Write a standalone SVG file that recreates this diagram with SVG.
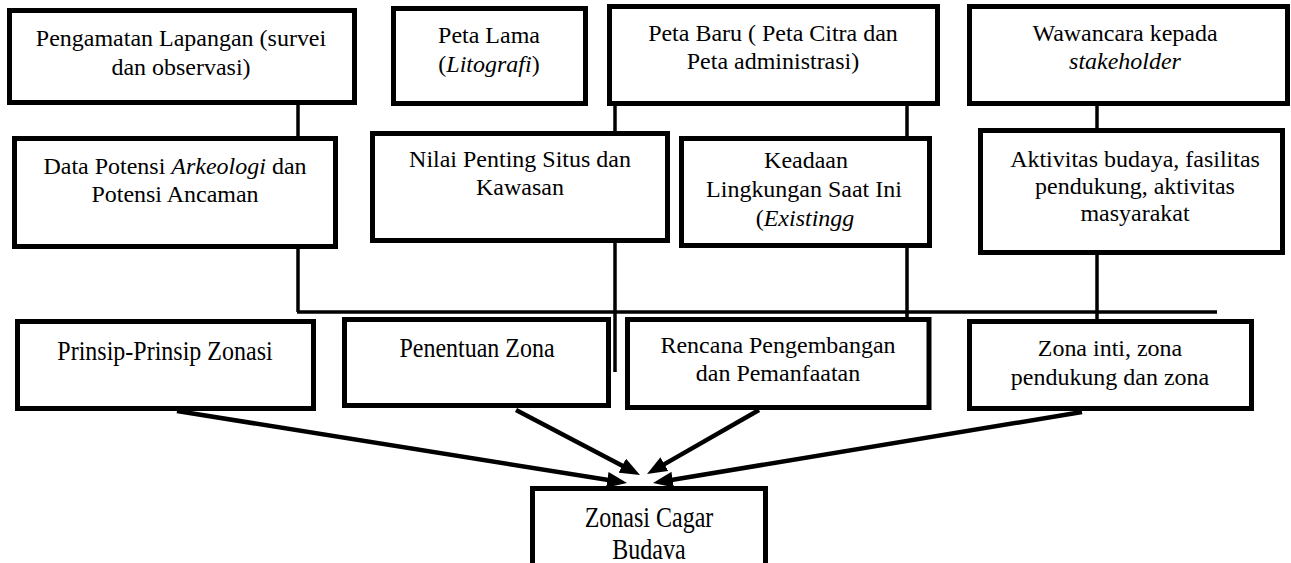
<svg xmlns="http://www.w3.org/2000/svg" width="1291" height="563" viewBox="0 0 1291 563">
<style>
  .box { fill: #ffffff; stroke: #000000; stroke-width: 5; }
  .t { font-family: 'Liberation Serif', 'Times New Roman', serif; font-size: 24px; fill: #000000; text-anchor: middle; }
  .i { font-style: italic; }
  .conn { stroke: #000000; stroke-width: 3.5; fill: none; }
  .arr { stroke: #000000; stroke-width: 4.5; fill: none; marker-end: url(#ah); }
</style>
<defs>
  <marker id="ah" markerUnits="userSpaceOnUse" markerWidth="20" markerHeight="16" refX="6" refY="8" orient="auto">
    <path d="M0,0 L20,8 L0,16 Z" fill="#000000"/>
  </marker>
</defs>
<rect width="1291" height="563" fill="#ffffff"/>

<g id="connectors">
  <path class="conn" d="M298,105 V136"/>
  <path class="conn" d="M298,249 V312"/>
  <path class="conn" d="M615,106 V131"/>
  <path class="conn" d="M615,243 V372"/>
  <path class="conn" d="M907,106 V136"/>
  <path class="conn" d="M907,248 V317"/>
  <path class="conn" d="M1097,106 V128"/>
  <path class="conn" d="M1097,255 V319"/>
  <path class="conn" d="M297,312 H1217"/>
  <path class="arr" d="M177,411 L613.2,480.8"/>
  <path class="arr" d="M516,410 L627.6,468.5"/>
  <path class="arr" d="M759,410 L659.2,467.1"/>
  <path class="arr" d="M1082,412 L666.8,480.7"/>
</g>

<g id="pengamatan">
  <rect class="box" x="9.5" y="10.5" width="345" height="92"/>
  <text class="t" transform="translate(181,46) scale(1,0.97)">Pengamatan Lapangan (survei</text>
  <text class="t" transform="translate(181,75) scale(1,0.97)">dan observasi)</text>
</g>
<g id="peta-lama">
  <rect class="box" x="393.5" y="8.5" width="192" height="95"/>
  <text class="t" transform="translate(489,43) scale(1,0.97)">Peta Lama</text>
  <text class="t" transform="translate(489,72) scale(1,0.97)">(<tspan class="i">Litografi</tspan>)</text>
</g>
<g id="peta-baru">
  <rect class="box" x="609.5" y="6.5" width="328" height="97"/>
  <text class="t" transform="translate(773,41) scale(1,0.97)">Peta Baru ( Peta Citra dan</text>
  <text class="t" transform="translate(773,69) scale(1,0.97)">Peta administrasi)</text>
</g>
<g id="wawancara">
  <rect class="box" x="969.5" y="6.5" width="318" height="97"/>
  <text class="t" transform="translate(1125,41) scale(1,0.97)">Wawancara kepada</text>
  <text class="t i" transform="translate(1125,69) scale(1,0.97)">stakeholder</text>
</g>

<g id="data-potensi">
  <rect class="box" x="14.5" y="138.5" width="321" height="108"/>
  <text class="t" transform="translate(175,174) scale(1,0.97)">Data Potensi <tspan class="i">Arkeologi</tspan> dan</text>
  <text class="t" transform="translate(175,202) scale(1,0.97)">Potensi Ancaman</text>
</g>
<g id="nilai-penting">
  <rect class="box" x="372.5" y="133.5" width="295" height="107"/>
  <text class="t" transform="translate(520,167) scale(1,0.97)">Nilai Penting Situs dan</text>
  <text class="t" transform="translate(520,195) scale(1,0.97)">Kawasan</text>
</g>
<g id="keadaan">
  <rect class="box" x="681.5" y="138.5" width="248" height="107"/>
  <text class="t" transform="translate(806,168) scale(1,0.97)">Keadaan</text>
  <text class="t" transform="translate(804,197) scale(1,0.97)">Lingkungan Saat Ini</text>
  <text class="t" transform="translate(805,226) scale(1,0.97)">(<tspan class="i">Existingg</tspan></text>
</g>
<g id="aktivitas">
  <rect class="box" x="980.5" y="130.5" width="302" height="122"/>
  <text class="t" transform="translate(1135,167) scale(1,0.97)">Aktivitas budaya, fasilitas</text>
  <text class="t" transform="translate(1135,194) scale(1,0.97)">pendukung, aktivitas</text>
  <text class="t" transform="translate(1135,221) scale(1,0.97)">masyarakat</text>
</g>

<g id="prinsip">
  <rect class="box" x="17.5" y="321.5" width="296" height="87"/>
  <text class="t" transform="translate(165,360) scale(1,1.1)">Prinsip-Prinsip Zonasi</text>
</g>
<g id="penentuan">
  <rect class="box" x="344.5" y="319.5" width="264" height="86"/>
  <text class="t" transform="translate(477,357) scale(1,1.1)">Penentuan Zona</text>
</g>
<g id="rencana">
  <rect class="box" x="627.5" y="319.5" width="301.5" height="88"/>
  <text class="t" transform="translate(778,353) scale(1,0.97)">Rencana Pengembangan</text>
  <text class="t" transform="translate(778,381) scale(1,0.97)">dan Pemanfaatan</text>
</g>
<g id="zona-inti">
  <rect class="box" x="969.5" y="321.5" width="282" height="87"/>
  <text class="t" transform="translate(1110,356) scale(1,0.97)">Zona inti, zona</text>
  <text class="t" transform="translate(1110,385) scale(1,0.97)">pendukung dan zona</text>
</g>

<g id="zonasi-cagar-budaya">
  <rect class="box" x="532.5" y="488.5" width="233" height="100"/>
  <text class="t" transform="translate(649,527) scale(1,1.2)">Zonasi Cagar</text>
  <text class="t" transform="translate(649,559) scale(1,1.2)">Budava</text>
</g>
</svg>
